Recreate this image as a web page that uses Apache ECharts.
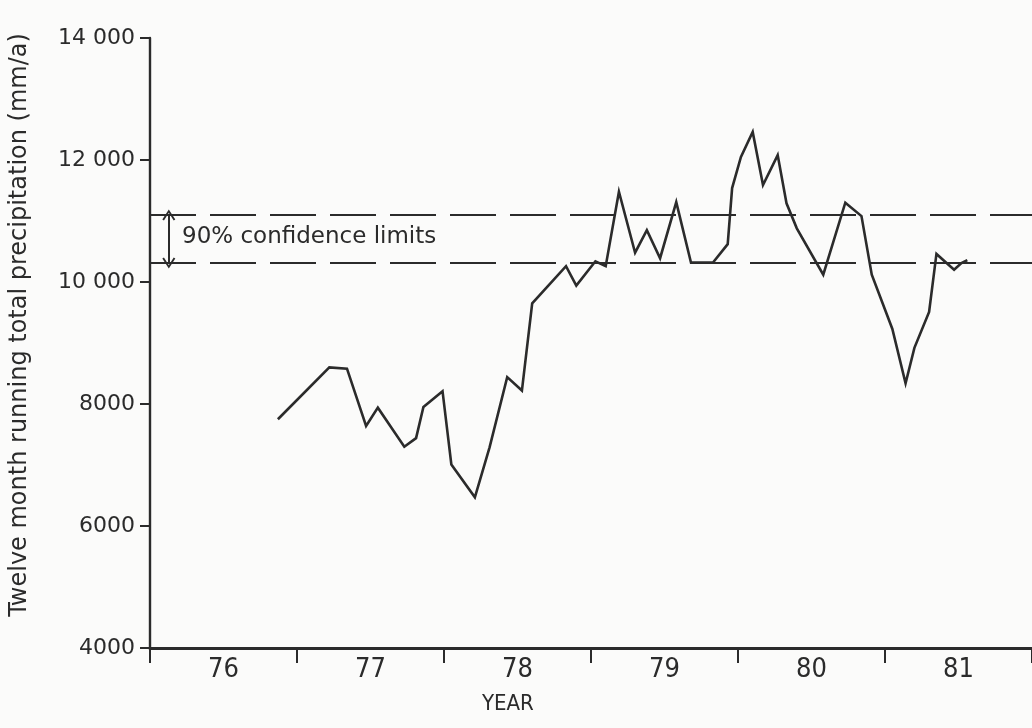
<!DOCTYPE html>
<html>
<head>
<meta charset="utf-8">
<script src="https://cdn.jsdelivr.net/npm/echarts@6/dist/echarts.min.js"></script>
<style>
  html, body { margin: 0; padding: 0; background: #fbfbfa; }
  #chart { width: 1032px; height: 728px; }
</style>
</head>
<body>
<div id="chart"></div>
<script>
// Year labels (placed in the middle of each year interval)
const yearLabels = ['76', '77', '78', '79', '80', '81'];
// Decimal year of each vertex of the running-total curve
const years = [
  76.87, 77.22, 77.34, 77.47, 77.55, 77.73, 77.81, 77.86, 77.99, 78.05,
  78.21, 78.31, 78.43, 78.53, 78.60, 78.83, 78.90, 79.03, 79.10, 79.19,
  79.30, 79.38, 79.47, 79.58, 79.68, 79.83, 79.93, 79.96, 80.02, 80.10,
  80.17, 80.27, 80.33, 80.40, 80.58, 80.73, 80.84, 80.91, 81.05, 81.14,
  81.20, 81.30, 81.35, 81.47, 81.52, 81.56
];
// Twelve month running total precipitation (mm/a)
const precip = [
  7750, 8600, 8580, 7640, 7940, 7300, 7440, 7950, 8210, 7010,
  6470, 7290, 8440, 8220, 9650, 10260, 9940, 10340, 10260, 11480,
  10480, 10850, 10390, 11310, 10320, 10320, 10620, 11540, 12050, 12460,
  11590, 12080, 11290, 10880, 10120, 11300, 11080, 10120, 9230, 8340,
  8920, 9510, 10460, 10200, 10310, 10360
];
// Lower and upper 90% confidence limits (mm/a)
const confidenceLimits = [10310, 11100];
// Y axis tick values
const yTicks = [4000, 6000, 8000, 10000, 12000, 14000];

const ink = '#2b2b2b';
const roundFont = '"DejaVu Sans", "Noto Sans", sans-serif';
const narrowFont = '"Liberation Sans Narrow", "DejaVu Sans Condensed", sans-serif';
const chevron = 'path://M0,10 L6,0 L12,10 L10.5,10.9 L6,3.4 L1.5,10.9 Z';

const chart = echarts.init(document.getElementById('chart'), null, { renderer: 'canvas' });

const fmtThousands = v => v >= 10000
  ? String(v).slice(0, -3) + ' ' + String(v).slice(-3)
  : String(v);

chart.setOption({
  backgroundColor: '#fbfbfa',
  animation: false,
  grid: { left: 146, top: 38, width: 888, bottom: 80, containLabel: false },
  title: {
    text: 'YEAR', left: 477, top: 688,
    textStyle: { fontFamily: narrowFont, fontSize: 22, fontWeight: 'normal', color: ink }
  },
  xAxis: [
    {
      type: 'category',
      data: yearLabels,
      boundaryGap: true,
      position: 'bottom',
      axisLine: { show: true, lineStyle: { color: ink, width: 3 } },
      axisTick: { show: true, length: 15, alignWithLabel: false, lineStyle: { color: ink, width: 2 } },
      axisLabel: { margin: 8, color: ink, fontSize: 27, fontFamily: narrowFont },
      splitLine: { show: false }
    },
    {
      type: 'value', min: 76, max: 82, show: false,
      splitLine: { show: false }
    }
  ],
  yAxis: {
    type: 'value',
    min: yTicks[0], max: yTicks[yTicks.length - 1], interval: 2000,
    name: 'Twelve month running total precipitation (mm/a)',
    nameLocation: 'middle', nameRotate: 90, nameGap: 118,
    nameTextStyle: { fontFamily: roundFont, fontSize: 24, color: ink, padding: [0, 0, 0, 36] },
    axisLine: { show: true, lineStyle: { color: ink, width: 2.4 } },
    axisTick: { show: true, length: 10, lineStyle: { color: ink, width: 2 } },
    axisLabel: { margin: 15, color: ink, fontSize: 22, fontFamily: roundFont, formatter: fmtThousands },
    splitLine: { show: false }
  },
  graphic: [
    {
      type: 'text', left: 182, top: 226,
      style: { text: '90% confidence limits', fill: ink, font: '23px "DejaVu Sans", "Noto Sans", sans-serif' }
    }
  ],
  series: [
    {
      type: 'line',
      xAxisIndex: 1,
      yAxisIndex: 0,
      data: years.map((y, i) => [y, precip[i]]),
      showSymbol: false,
      symbol: 'none',
      lineStyle: { color: ink, width: 2.6, join: 'miter' },
      markLine: {
        silent: true,
        symbol: 'none',
        label: { show: false },
        lineStyle: { color: ink, width: 2, type: [46, 14] },
        data: [
          { yAxis: confidenceLimits[0] },
          { yAxis: confidenceLimits[1] },
          [
            {
              coord: [76.128, confidenceLimits[1]],
              symbol: chevron,
              symbolSize: [13, 11],
              lineStyle: { type: 'solid', width: 2 }
            },
            {
              coord: [76.128, confidenceLimits[0]],
              symbol: chevron,
              symbolSize: [13, 11]
            }
          ]
        ]
      }
    }
  ]
});
</script>
</body>
</html>
